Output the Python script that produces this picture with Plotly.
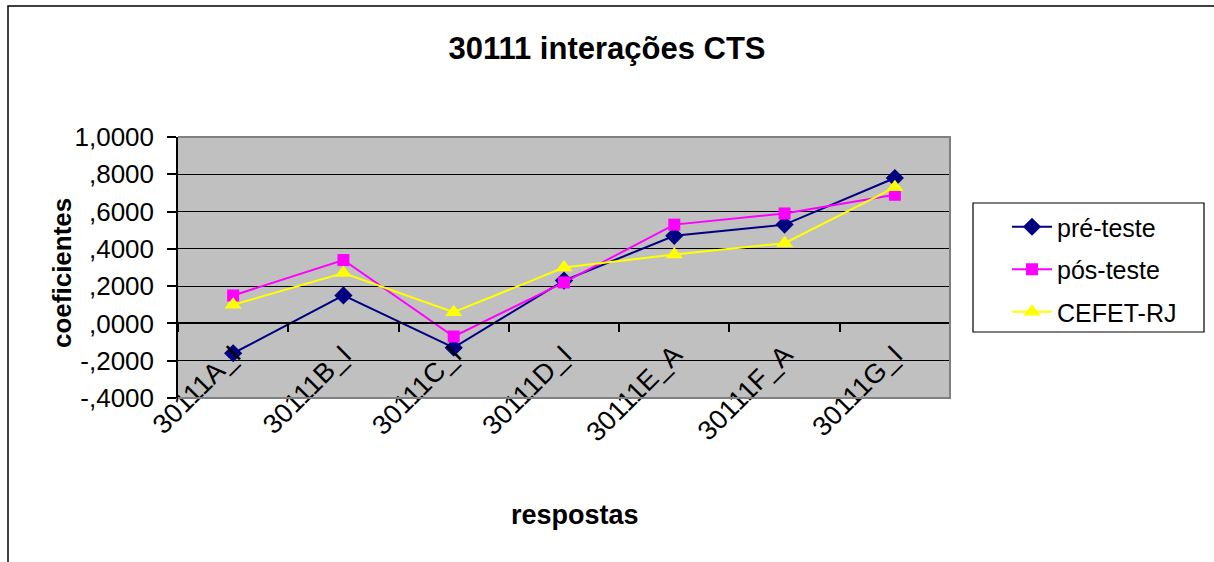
import plotly.graph_objects as go

categories = ["30111A_I", "30111B_I", "30111C_I", "30111D_I", "30111E_A", "30111F_A", "30111G_I"]
pre_teste = [-0.16, 0.15, -0.13, 0.23, 0.47, 0.53, 0.78]
pos_teste = [0.15, 0.34, -0.07, 0.22, 0.53, 0.59, 0.69]
cefet_rj = [0.10, 0.27, 0.06, 0.30, 0.37, 0.43, 0.73]

y_tickvals = [-0.4, -0.2, 0.0, 0.2, 0.4, 0.6, 0.8, 1.0]
y_ticktext = ["-,4000", "-,2000", ",0000", ",2000", ",4000", ",6000", ",8000", "1,0000"]

FONT = "Liberation Sans, Arial, sans-serif"

fig = go.Figure()
fig.add_trace(go.Scatter(x=categories, y=pre_teste, name="pré-teste", mode="lines+markers",
                         line=dict(color="#000080", width=2),
                         marker=dict(symbol="diamond", size=14, color="#000080"),
                         legendgroup="a"))
fig.add_trace(go.Scatter(x=categories, y=pos_teste, name="pós-teste", mode="lines+markers",
                         line=dict(color="#FF00FF", width=2),
                         marker=dict(symbol="square", size=12, color="#FF00FF"),
                         legendgroup="b"))
fig.add_trace(go.Scatter(x=categories, y=cefet_rj, name="CEFET-RJ", mode="lines+markers",
                         line=dict(color="#FFFF00", width=2),
                         marker=dict(symbol="triangle-up", size=15, color="#FFFF00"),
                         legendgroup="c"))

W, H = 1214, 562
L, R, T, B = 178, 950, 137, 398
pw, ph = R - L, B - T

def px(x):
    return (x - L) / pw

def py(y):
    return (B - y) / ph

ymin, ymax = -0.4, 1.0

fig.update_layout(
    width=W, height=H,
    margin=dict(l=L, r=W - R, t=T, b=H - B, autoexpand=False),
    paper_bgcolor="white",
    plot_bgcolor="#C0C0C0",
    font=dict(family=FONT, color="black", size=26),
    title=dict(text="<b>30111 interações CTS</b>", x=0.5, xref="container", xanchor="center",
               y=1 - 48 / H, yref="container", yanchor="middle",
               font=dict(size=31, family=FONT, color="black")),
    showlegend=True,
    legend=dict(x=px(1007), y=py(204), xanchor="left", yanchor="top",
                bgcolor="rgba(0,0,0,0)", borderwidth=0,
                font=dict(size=25, family=FONT, color="black"),
                tracegroupgap=7, itemwidth=40),
    xaxis=dict(type="category", range=[-0.5, 6.5], anchor="free",
               position=(0 - ymin) / (ymax - ymin),
               showline=True, linecolor="black", linewidth=1.5,
               ticks="outside", ticklen=8, tickcolor="black", tickwidth=1.5,
               tickson="boundaries", tickangle=-45, showgrid=False,
               ticklabelstandoff=4,
               tickfont=dict(size=27, family=FONT, color="black"),
               automargin=False, zeroline=False),
    yaxis=dict(range=[ymin, ymax], tickvals=y_tickvals, ticktext=y_ticktext,
               showline=True, linecolor="black", linewidth=1.5,
               ticks="outside", ticklen=9, tickcolor="black", tickwidth=1.5,
               showgrid=True, gridcolor="black", gridwidth=1.3,
               zeroline=False, automargin=False, ticklabelstandoff=8,
               tickfont=dict(size=26, family=FONT, color="black")),
    annotations=[
        dict(text="<b>respostas</b>", x=px(575), y=py(515), xref="paper", yref="paper",
             showarrow=False, xanchor="center", yanchor="middle",
             font=dict(size=27, family=FONT, color="black")),
        dict(text="<b>coeficientes</b>", x=px(62), y=py(273), xref="paper", yref="paper",
             showarrow=False, textangle=-90, xanchor="center", yanchor="middle",
             font=dict(size=26, family=FONT, color="black")),
    ],
    shapes=[
        dict(type="path", xref="paper", yref="paper",
             path=f"M {px(L)},{py(T)} L {px(R)},{py(T)} L {px(R)},{py(B)} L {px(L)},{py(B)}",
             line=dict(color="#808080", width=2), layer="above"),
        dict(type="rect", xref="paper", yref="paper",
             x0=px(973), x1=px(1204), y0=py(332), y1=py(203),
             line=dict(color="black", width=1.2), fillcolor="white", layer="below"),
        dict(type="path", xref="paper", yref="paper",
             path=f"M {px(8)},{py(H + 5)} L {px(8)},{py(6)} L {px(W + 5)},{py(6)}",
             line=dict(color="black", width=1.5), layer="above"),
    ],
)

fig.write_html("out.html", config={"displayModeBar": False},
               post_script="document.body.style.margin='0';")
